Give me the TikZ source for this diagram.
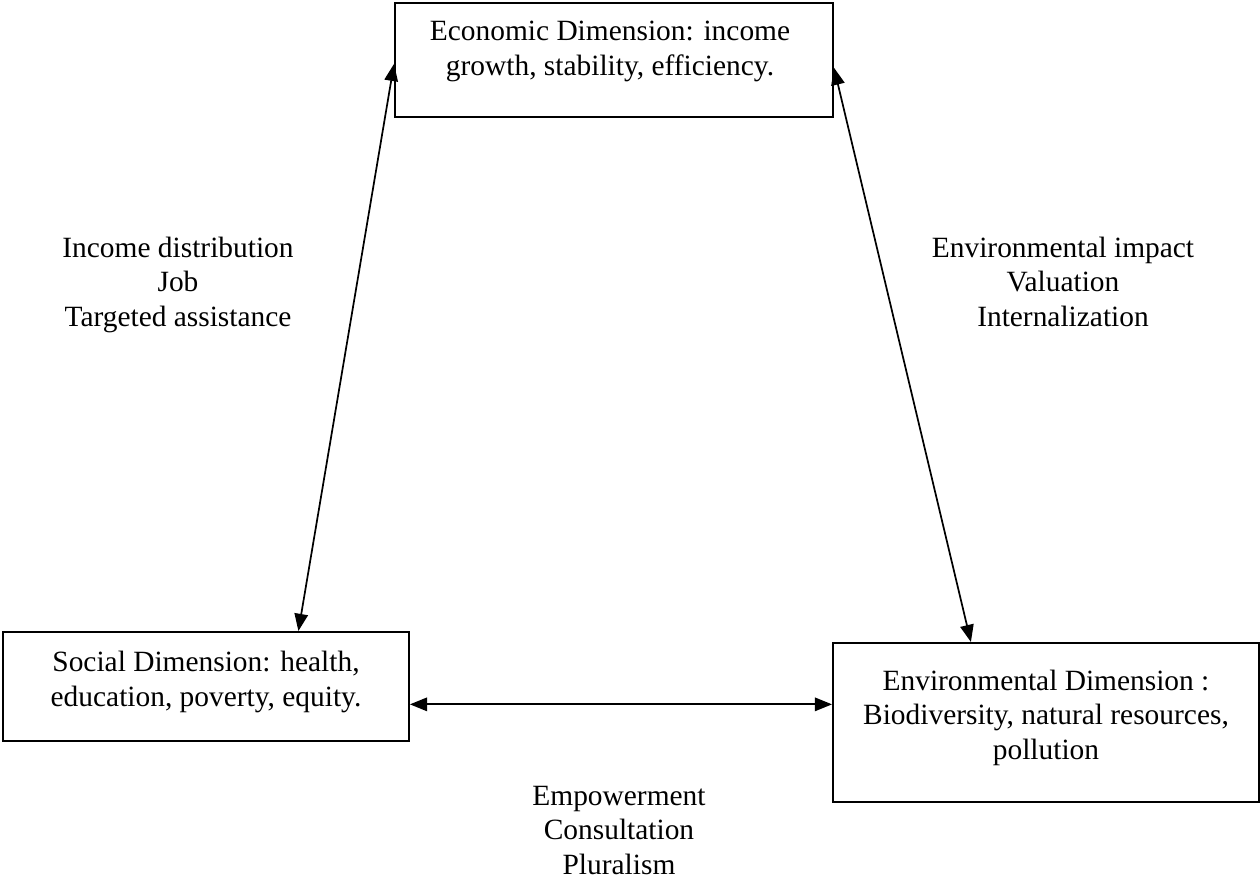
\documentclass[tikz,border=0pt]{standalone}
\usepackage{fontspec}
\setmainfont{Liberation Serif}
\usetikzlibrary{arrows.meta}

\begin{document}
\begin{tikzpicture}[x=0.408pt, y=-0.408pt, font=\fontsize{12}{14}\selectfont,
	dimbox/.style={draw, line width=0.8pt, inner sep=0pt},
	dimtext/.style={align=center, anchor=base, inner sep=0pt},
	link/.style={{Triangle[length=7pt,width=5.5pt]}-{Triangle[length=7pt,width=5.5pt]}, line width=0.7pt}]
	\useasboundingbox (0,0) rectangle (1260,879);

	\node[dimbox, minimum width=178.7pt, minimum height=46.5pt](eco) at (614,60) {};
	\node[dimbox, minimum width=165.6pt, minimum height=44.5pt](soc) at (206,686.5) {};
	\node[dimbox, minimum width=173.8pt, minimum height=64.9pt](env) at (1046,722.5) {};

	% anchor=base sits on the last line
	\node[dimtext](ecotext) at (610,75) {Economic Dimension: income\\growth, stability, efficiency.};
	\node[dimtext](soctext) at (206,706) {Social Dimension: health,\\education, poverty, equity.};
	\node[dimtext](envtext) at (1046,759) {Environmental Dimension :\\Biodiversity, natural resources,\\pollution};

	\node[dimtext](ecosoc) at (178,326) {Income distribution\\Job\\Targeted assistance};
	\node[dimtext](ecoenv) at (1063,326) {Environmental impact\\Valuation\\Internalization};
	\node[dimtext](socenv) at (619,874) {Empowerment\\Consultation\\Pluralism};

	\draw[link](eco.181) -- (soc.31.5);
	\draw[link](eco.-2.6) -- (env.133.3);
	\draw[link](soc.-5.8) -- (soc.-5.8 -| env.west);
\end{tikzpicture}
\end{document}
